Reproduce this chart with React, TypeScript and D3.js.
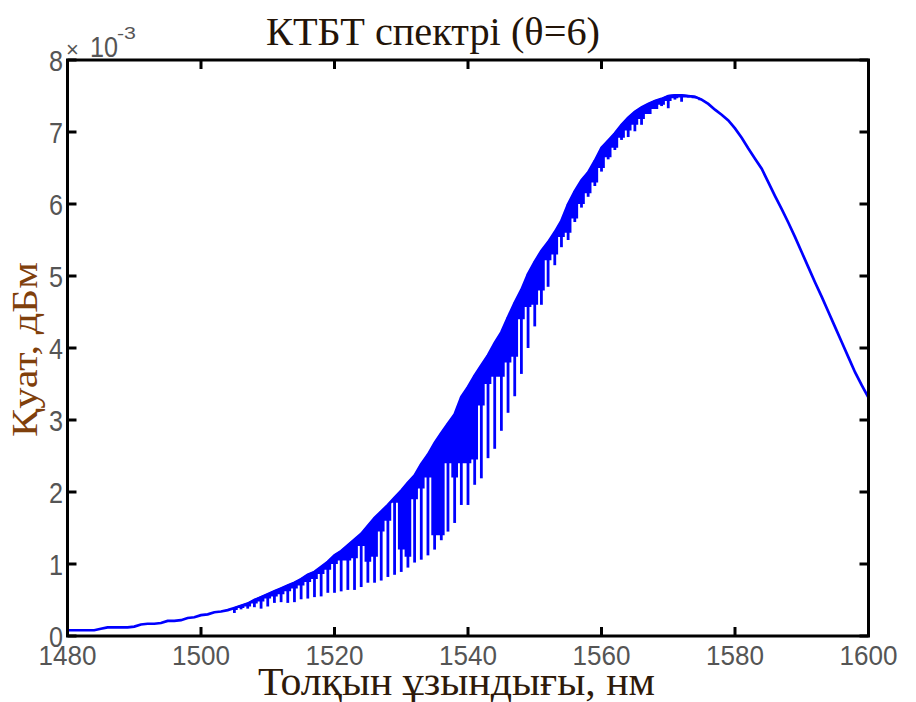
import React from "react";
import * as d3 from "d3";

// Spectrum sampled every 1 nm (upper envelope of the trace), 10^-3 units
const wavelengthStart = 1480;
const envelope = [
  0.08, 0.08, 0.08, 0.08, 0.08, 0.10, 0.12, 0.12, 0.12, 0.12,
  0.13, 0.16, 0.17, 0.17, 0.18, 0.21, 0.21, 0.22, 0.25, 0.26,
  0.29, 0.30, 0.33, 0.34, 0.36, 0.39, 0.42, 0.45, 0.50, 0.54,
  0.58, 0.62, 0.66, 0.70, 0.74, 0.79, 0.85, 0.89, 0.96, 1.03,
  1.12, 1.18, 1.26, 1.34, 1.42, 1.53, 1.64, 1.73, 1.82, 1.92,
  2.02, 2.13, 2.23, 2.39, 2.52, 2.68, 2.82, 2.95, 3.08, 3.32,
  3.46, 3.62, 3.76, 3.90, 4.07, 4.22, 4.43, 4.63, 4.81, 5.03,
  5.20, 5.35, 5.47, 5.61, 5.77, 6.00, 6.18, 6.33, 6.44, 6.60,
  6.78, 6.88, 6.98, 7.10, 7.20, 7.28, 7.34, 7.39, 7.43, 7.46,
  7.50, 7.51, 7.51, 7.50, 7.49, 7.45, 7.39, 7.31, 7.24, 7.16,
  7.05, 6.92, 6.77, 6.63, 6.49, 6.30, 6.11, 5.93, 5.74, 5.54,
  5.33, 5.12, 4.91, 4.71, 4.50, 4.29, 4.08, 3.87, 3.66, 3.48,
  3.31,
];

// Ripple region: lower edge of the dense band and depth of the deep dips
const rippleStart = 1505;
const rippleBand = [
  0.36, 0.39, 0.41, 0.45, 0.48,
  0.52, 0.55, 0.58, 0.62, 0.66, 0.70, 0.75, 0.79, 0.86, 0.92,
  1.00, 1.05, 1.05, 1.08, 1.25, 1.03, 1.10, 1.45, 1.60, 1.85,
  1.20, 1.10, 1.90, 2.05, 2.20, 1.40, 1.40, 2.40, 2.20, 2.40,
  2.40, 2.45, 3.20, 3.50, 3.60, 3.60, 3.80, 3.88, 4.40, 4.57,
  4.60, 4.80, 5.22, 5.30, 5.54, 5.60, 5.80, 6.00, 6.15, 6.30,
  6.50, 6.65, 6.78, 6.92, 7.02, 7.10, 7.18, 7.25, 7.32, 7.38,
  7.43, 7.47, 7.48, 7.48, 7.47, 7.44,
];
const rippleDip = [
  0.32, 0.37, 0.38, 0.40, 0.38,
  0.41, 0.46, 0.47, 0.46, 0.47, 0.51, 0.52, 0.54, 0.55, 0.60,
  0.60, 0.62, 0.64, 0.64, 0.68, 0.74, 0.74, 0.77, 0.82, 0.85,
  0.89, 0.95, 1.02, 1.06, 1.12, 1.20, 1.33, 1.45, 1.57, 1.82,
  1.82, 2.10, 2.19, 2.47, 2.60, 2.85, 3.10, 3.33, 3.64, 4.00,
  4.30, 4.60, 4.85, 5.15, 5.40, 5.50, 5.75, 5.95, 6.10, 6.25,
  6.45, 6.62, 6.75, 6.89, 6.93, 7.01, 7.10, 7.25, 7.35, 7.36,
  7.33, 7.45, 7.42, 7.48, 7.47, 7.45,
];

const xTicks = [1480, 1500, 1520, 1540, 1560, 1580, 1600];
const yTicks = [0, 1, 2, 3, 4, 5, 6, 7, 8];

const titleText = "КТБТ спектрі (θ=6)";
const xLabelText = "Толқын ұзындығы, нм";
const yLabelText = "Қуат, дБм";

const W = 916;
const H = 702;
const plot = { left: 67.5, right: 868.5, top: 60, bottom: 636 };
const LINE = "#0000ff";
const TICK_TEXT = "#555555";

export default function App() {
  const x = d3.scaleLinear().domain([1480, 1600]).range([plot.left, plot.right]);
  const y = d3.scaleLinear().domain([0, 8]).range([plot.bottom, plot.top]);

  const envPts: [number, number][] = envelope.map((v, i) => [wavelengthStart + i, v]);
  const line = d3
    .line<[number, number]>()
    .x((d) => x(d[0]))
    .y((d) => y(d[1]));

  // region under the envelope, used to trim the ripple band
  const underEnvelope = d3
    .area<[number, number]>()
    .x((d) => x(d[0]))
    .y0(plot.bottom)
    .y1((d) => y(d[1]) - 1);

  const offset = rippleStart - wavelengthStart;
  const bandArea = d3
    .area<number>()
    .curve(d3.curveStep)
    .x((_, i) => x(rippleStart + i))
    .y0((d) => y(d))
    .y1(plot.top);

  const tickLen = 9;
  const axisW = 3;

  return (
    <svg
      width={W}
      height={H}
      viewBox={`0 0 ${W} ${H}`}
      style={{ position: "absolute", left: 0, top: 0, background: "#fff" }}
    >
      <defs>
        <clipPath id="under-envelope">
          <path d={underEnvelope(envPts) || ""} />
        </clipPath>
      </defs>
      <rect width={W} height={H} fill="#fff" />

      {/* dense ripple band under the envelope */}
      <path
        d={bandArea(rippleBand) || ""}
        fill={LINE}
        stroke="none"
        clipPath="url(#under-envelope)"
      />

      {/* deep ripple dips */}
      {rippleDip.map((v, i) => (
        <line
          key={`dip-${i}`}
          x1={x(rippleStart + i)}
          x2={x(rippleStart + i)}
          y1={y(envelope[offset + i])}
          y2={y(v)}
          stroke={LINE}
          strokeWidth={2.8}
        />
      ))}

      {/* spectrum envelope */}
      <path d={line(envPts) || ""} fill="none" stroke={LINE} strokeWidth={2.7} />

      {/* box */}
      <rect
        x={plot.left}
        y={plot.top}
        width={plot.right - plot.left}
        height={plot.bottom - plot.top}
        fill="none"
        stroke="#000"
        strokeWidth={axisW}
      />

      {/* x ticks (inward, top and bottom) */}
      {xTicks.map((t) => (
        <g key={`xt-${t}`}>
          <line x1={x(t)} x2={x(t)} y1={plot.bottom} y2={plot.bottom - tickLen} stroke="#000" strokeWidth={axisW} />
          <line x1={x(t)} x2={x(t)} y1={plot.top} y2={plot.top + tickLen} stroke="#000" strokeWidth={axisW} />
          <text
            x={x(t)}
            y={665}
            textAnchor="middle"
            fontFamily="Liberation Sans, Arial, sans-serif"
            fontSize={28}
            fill={TICK_TEXT}
            textLength={58}
            lengthAdjust="spacingAndGlyphs"
          >
            {t}
          </text>
        </g>
      ))}

      {/* y ticks (inward, left and right) */}
      {yTicks.map((t) => (
        <g key={`yt-${t}`}>
          <line x1={plot.left} x2={plot.left + tickLen} y1={y(t)} y2={y(t)} stroke="#000" strokeWidth={axisW} />
          <line x1={plot.right} x2={plot.right - tickLen} y1={y(t)} y2={y(t)} stroke="#000" strokeWidth={axisW} />
          <text
            x={63}
            y={y(t) + 10.5}
            textAnchor="end"
            fontFamily="Liberation Sans, Arial, sans-serif"
            fontSize={29}
            fill={TICK_TEXT}
            textLength={14}
            lengthAdjust="spacingAndGlyphs"
          >
            {t}
          </text>
        </g>
      ))}

      {/* exponent marker */}
      <text
        x={66}
        y={57}
        fontFamily="Liberation Sans, Arial, sans-serif"
        fontSize={22}
        fill={TICK_TEXT}
      >
        ×
      </text>
      <text
        x={90}
        y={57}
        fontFamily="Liberation Sans, Arial, sans-serif"
        fontSize={29}
        fill={TICK_TEXT}
        textLength={28}
        lengthAdjust="spacingAndGlyphs"
      >
        10
      </text>
      <text
        x={117}
        y={39}
        fontFamily="Liberation Sans, Arial, sans-serif"
        fontSize={17}
        fill={TICK_TEXT}
        textLength={19}
        lengthAdjust="spacingAndGlyphs"
      >
        -3
      </text>

      {/* title */}
      <text
        x={266}
        y={45}
        fontFamily="Liberation Serif, Times New Roman, serif"
        fontSize={41}
        fill="#231408"
        textLength={334}
        lengthAdjust="spacingAndGlyphs"
      >
        {titleText}
      </text>

      {/* x label */}
      <text
        x={258}
        y={695}
        fontFamily="Liberation Serif, Times New Roman, serif"
        fontSize={40}
        fill="#2e1a0a"
        textLength={397}
        lengthAdjust="spacingAndGlyphs"
      >
        {xLabelText}
      </text>

      {/* y label */}
      <text
        transform={`translate(37, 437) rotate(-90)`}
        fontFamily="Liberation Serif, Times New Roman, serif"
        fontSize={35}
        fill="#7f400c"
        textLength={175}
        lengthAdjust="spacingAndGlyphs"
      >
        {yLabelText}
      </text>
    </svg>
  );
}
